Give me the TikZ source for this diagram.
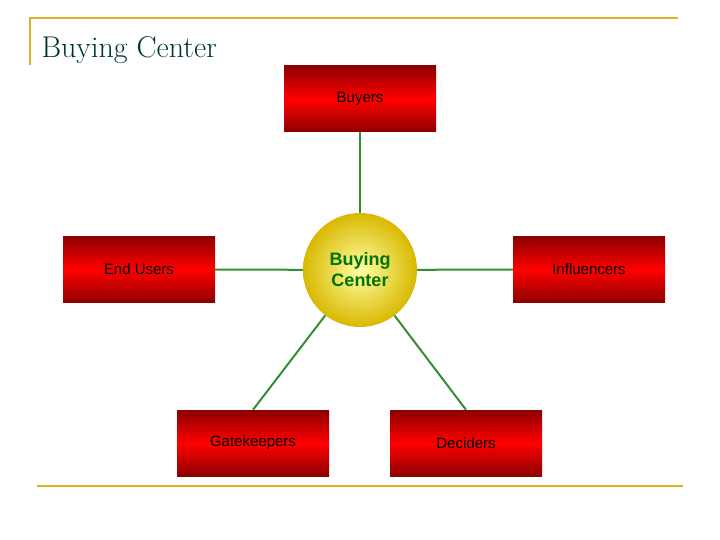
\documentclass[tikz,border=0pt]{standalone}
\usepackage{fontspec}
\setsansfont{Liberation Sans}
\begin{document}
\begin{tikzpicture}[x=1pt,y=-1pt,
  box/.style={draw=none,minimum width=152pt,minimum height=66pt,top color=red!55!black,bottom color=red!55!black,middle color=red,font=\sffamily\fontsize{15}{17}\selectfont,text=black},
  link/.style={draw=green!45!black!80,line width=2pt},
  gold/.style={draw=yellow!60!orange!85!black,line width=2pt}]
\useasboundingbox (0,0) rectangle (720,540);
\draw[gold] (30,65) -- (30,18) -- (678,18);
\draw[gold] (37,486) -- (683,486);
\node[anchor=west,font=\fontsize{30}{34}\selectfont,text=teal!40!black] (title) at (38,50) {Buying Center};
\node[box] (b) at (360,99) {Buyers};
\node[box] (e) at (139,269.5) {End Users};
\node[box] (i) at (589,269.5) {Influencers};
\node[box] (g) at (253,443) {Gatekeepers};
\node[box] (d) at (466,443) {Deciders};
\node[circle,minimum size=114pt,inner color=yellow!35!white,outer color=yellow!70!orange!85!black,text=green!45!black,font=\sffamily\bfseries\fontsize{18}{21}\selectfont,align=center,inner sep=0pt] (c) at (360,270) {Buying\\Center};
\draw[link] (c) -- (b.south);
\draw[link] (c) -- (e.east);
\draw[link] (c) -- (i.west);
\draw[link] (c) -- (g.north);
\draw[link] (c) -- (d.north);
\end{tikzpicture}
\end{document}
